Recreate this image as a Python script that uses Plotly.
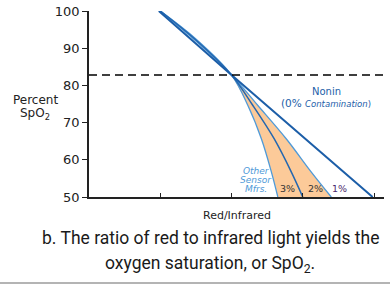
import plotly.graph_objects as go

# ---- data ----
nonin_x = [0.98, 2.0, 3.98]
nonin_y = [100, 82.8, 50]

c3_x = [1.0, 1.5, 2.0, 2.23, 2.42, 2.56, 2.65]
c3_y = [100, 92.5, 82.8, 74.6, 65.6, 56.7, 50]
c2_x = [1.0, 1.5, 2.0, 2.30, 2.60, 2.84, 3.0]
c2_y = [100, 92.2, 82.8, 74.6, 65.6, 56.7, 50]
c1_x = [1.0, 1.5, 2.0, 2.37, 2.77, 3.12, 3.40]
c1_y = [100, 91.9, 82.8, 74.6, 65.6, 56.7, 50]

dashed_level = 82.8
y_ticks = [50, 60, 70, 80, 90, 100]
x_ticks = [1, 2, 3, 4]

W, H = 390, 285
L, R, T, B = 89, 6, 11, 88
PW, PH = W - L - R, H - T - B


def px(x):
    return (x - L) / PW


def py(y):
    return (H - B - y) / PH


LIGHT = "#4f9ad8"
MID = "#2467b0"
DARK = "#1c5ea8"
FILL = "#fcca99"
COMIC = "DejaVu Sans"
CAP = "Roboto, sans-serif"

fig = go.Figure()

# orange band between 1% and 3% curves (below crossover)
fig.add_trace(go.Scatter(x=c1_x[2:], y=c1_y[2:], mode="lines",
                         line=dict(width=0, shape="spline", color=FILL),
                         hoverinfo="skip", showlegend=False))
fig.add_trace(go.Scatter(x=c3_x[2:], y=c3_y[2:], mode="lines",
                         line=dict(width=0, shape="spline", color=FILL),
                         fill="tonexty", fillcolor=FILL,
                         hoverinfo="skip", showlegend=False))

for xs, ys, col, w in [(c3_x, c3_y, LIGHT, 1.3), (c1_x, c1_y, LIGHT, 1.3),
                       (c2_x, c2_y, MID, 1.5)]:
    fig.add_trace(go.Scatter(x=xs, y=ys, mode="lines",
                             line=dict(color=col, width=w, shape="spline"),
                             showlegend=False))
fig.add_trace(go.Scatter(x=nonin_x, y=nonin_y, mode="lines",
                         line=dict(color=DARK, width=2), showlegend=False))

fig.add_shape(type="line", xref="paper", yref="y", x0=0, x1=1,
              y0=dashed_level, y1=dashed_level,
              line=dict(color="black", width=1.5, dash="8px,5px"))

# bottom rule
fig.add_shape(type="line", xref="paper", yref="paper",
              x0=px(0), x1=px(W), y0=py(283), y1=py(283),
              line=dict(color="#b4b4b4", width=2))

ann = []


def text(x, y, s, size, color="#222", family=COMIC, **kw):
    ann.append(dict(x=px(x), y=py(y), xref="paper", yref="paper", text=s,
                    showarrow=False, font=dict(size=size, color=color, family=family),
                    xanchor=kw.get("xanchor", "center"), yanchor="middle",
                    align=kw.get("align", "center")))


text(326, 92, "Nonin", 10, DARK)
text(326, 103, "(0% <span style='font-size:8.5px'><i>Contamination</i>)</span>", 10.5, DARK)
text(256, 171, "<i>Other</i>", 9, LIGHT)
text(256, 180, "<i>Sensor</i>", 9, LIGHT)
text(256, 189, "<i>Mfrs.</i>", 9, LIGHT)
text(287, 188, "3%", 9.5, "#333")
text(315, 188, "2%", 9.5, "#333")
text(339, 188, "1%", 9.5, "#4b2a6e")
text(35, 100, "Percent", 12, "#222")
text(35, 114, "SpO<sub>2</sub>", 12, "#222")
text(237, 216, "Red/Infrared", 11, "#222")
text(210, 238, "b. The ratio of red to infrared light yields the", 17.5, "#1a1a1a",
     family=CAP)
text(210, 264, "oxygen saturation, or SpO<sub>2</sub>.", 17.5, "#1a1a1a",
     family=CAP)

fig.update_layout(
    width=W, height=H, margin=dict(l=L, r=R, t=T, b=B, autoexpand=False),
    paper_bgcolor="white", plot_bgcolor="white",
    annotations=ann, showlegend=False,
    xaxis=dict(range=[0, 4.14], showgrid=False, zeroline=False,
               showline=True, linecolor="#222", linewidth=1.5,
               tickvals=x_ticks, showticklabels=False, automargin=False,
               ticks="inside", ticklen=4, tickcolor="#222"),
    yaxis=dict(range=[50, 100], showgrid=False, zeroline=False,
               showline=True, linecolor="#222", linewidth=1.5,
               tickvals=y_ticks, ticks="outside", ticklen=5, tickcolor="#222",
               automargin=False,
               tickfont=dict(family=COMIC, size=13, color="#222")),
)

# remove the browser's default 8px page margin so the figure sits at the window origin
fig.write_html("out.html", config={"displayModeBar": False},
               post_script="document.body.style.margin='0';")
